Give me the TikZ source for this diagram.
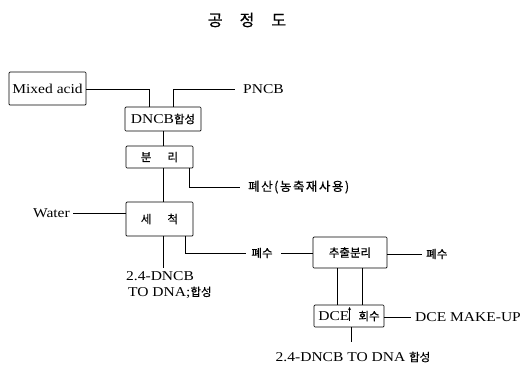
\documentclass[tikz,border=0pt]{standalone}
\usepackage{fontspec}
\setmainfont[FakeStretch=1.15]{Liberation Serif}
\newfontfamily\kr[FakeBold=0.6]{Noto Sans CJK KR}
\usetikzlibrary{arrows.meta}
\tikzset{
  box/.style={draw, line width=0.7pt, rounded corners=1pt, inner sep=0pt, font=\fontsize{13.5}{15}\selectfont},
  lab/.style={inner sep=0pt, font=\fontsize{13.5}{15}\selectfont},
  ln/.style={line width=0.7pt},
}
\begin{document}
\begin{tikzpicture}[x=1pt,y=-1pt]
\useasboundingbox (0,0) rectangle (526,373);
% title
\node[inner sep=0pt, font=\kr\fontsize{16}{18}\selectfont] (title) at (247,20) {공\hspace{17pt}정\hspace{17pt}도};
% boxes
\node[box, minimum width=77pt, minimum height=33pt] (mix) at (47.5,88.5) {Mixed acid};
\node[box, minimum width=76pt, minimum height=24pt] (dncb) at (163,119) {DNCB{\kr\fontsize{11.5}{13}\selectfont 합성}};
\node[box, minimum width=67pt, minimum height=22pt] (bunri) at (159.5,157) {\kr\fontsize{11.5}{13}\selectfont 분\hspace{16pt}리};
\node[box, minimum width=67pt, minimum height=34pt] (sechuk) at (159.5,219) {\kr\fontsize{11.5}{13}\selectfont 세\hspace{16pt}척};
\node[box, minimum width=74pt, minimum height=31pt] (chul) at (350,252.5) {\kr\fontsize{11.5}{13}\selectfont 추출분리};
\node[box, minimum width=70pt, minimum height=22pt] (dce) at (349,316) {DCE\hspace{9pt}{\kr\fontsize{11.5}{13}\selectfont 회수}};
% labels
\node[lab, anchor=west] (pncb) at (243,89) {PNCB};
\node[lab, anchor=west, font=\kr\fontsize{12.5}{14}\selectfont\addfontfeature{LetterSpace=12}] (waste) at (248,187) {폐산(농축재사용)};
\node[lab, anchor=east] (water) at (70,213) {Water};
\node[lab, anchor=north west, align=left] (prod1) at (126,271) {2.4-DNCB\\[1pt]\hspace{2pt}TO DNA;{\kr\fontsize{11.5}{13}\selectfont 합성}};
\node[lab, anchor=center, font=\kr\fontsize{11.5}{13}\selectfont] (ww1) at (262,253) {폐수};
\node[lab, anchor=west, font=\kr\fontsize{11.5}{13}\selectfont] (ww2) at (426,254) {폐수};
\node[lab, anchor=west] (makeup) at (415,317) {DCE MAKE-UP};
\node[lab, anchor=center] (prod2) at (353,357) {2.4-DNCB TO DNA {\kr\fontsize{11.5}{13}\selectfont 합성}};
% coordinates
\coordinate (m1) at (149,89);
\coordinate (p1) at (173,89);
\coordinate (w1) at (189,187);
\coordinate (s1) at (185,253);
\coordinate (d1) at (163,268);
% connectors
\draw[ln] (mix.east |- m1) -- (m1) -- (m1 |- dncb.north);
\draw[ln] (p1 |- dncb.north) -- (p1) -- (pncb.west -| 235,0);
\draw[ln] (dncb.south -| 163,0) -- (bunri.north -| 163,0);
\draw[ln] (bunri.south -| 163,0) -- (sechuk.north -| 163,0);
\draw[ln] (bunri.south -| w1) -- (w1) -- (240,187);
\draw[ln] (73,213) -- (sechuk.west |- 0,213);
\draw[ln] (sechuk.south -| d1) -- (d1);
\draw[ln] (sechuk.south -| s1) -- (s1) -- (ww1.west -| 246,0);
\draw[ln] (281,253) -- (chul.west |- 0,253);
\draw[ln] (chul.east |- 0,254) -- (422,254);
\draw[ln] (chul.south -| 337,0) -- (dce.north -| 337,0);
\draw[ln] (chul.south -| 362,0) -- (dce.north -| 362,0);
\draw[ln] (dce.east |- 0,317) -- (411,317);
\draw[ln] (dce.south -| 351,0) -- (351,342);
\draw[line width=1pt, -{Stealth[length=3pt,width=3pt]}] (349.5,321) -- (349.5,307);
\end{tikzpicture}
\end{document}
